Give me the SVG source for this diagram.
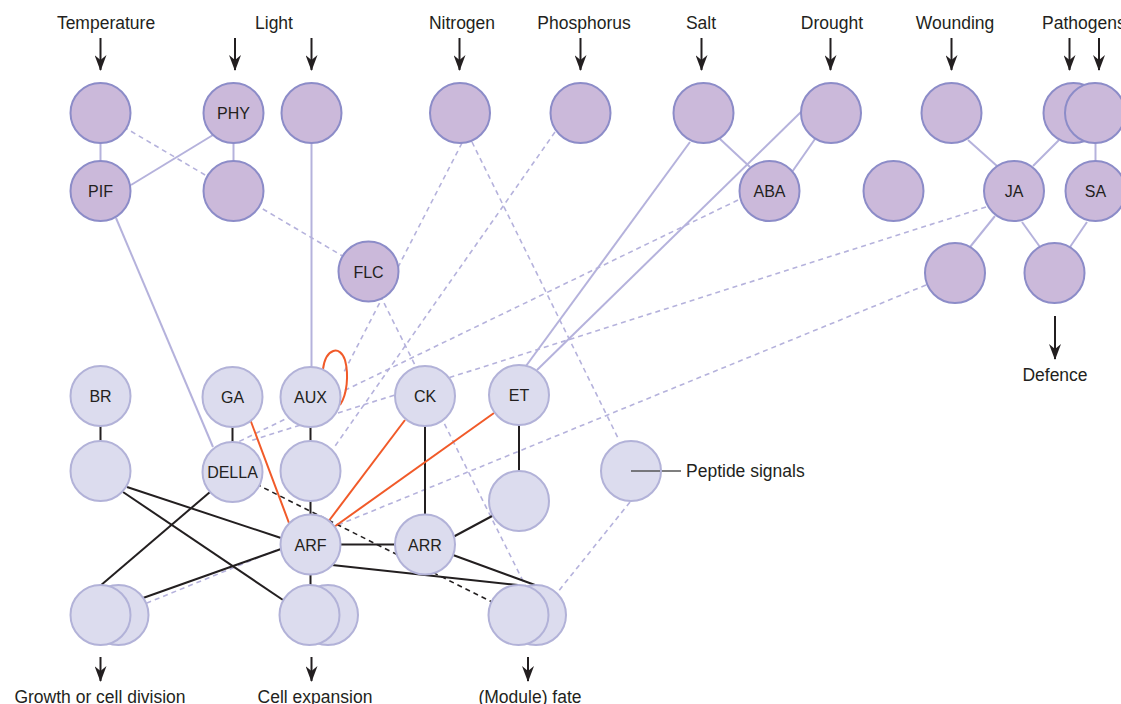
<svg xmlns="http://www.w3.org/2000/svg" width="1121" height="704" viewBox="0 0 1121 704">
<defs>
<marker id="ah" markerUnits="userSpaceOnUse" markerWidth="16" markerHeight="12" refX="15" refY="6" orient="auto" viewBox="0 0 16 12">
<path d="M0,0 L16,6 L0,12 L5,6 Z" fill="#231f20"/>
</marker>
<style>
.lbl{font-family:"Liberation Sans",Arial,sans-serif;font-size:17.5px;fill:#231f20;text-anchor:middle}
.nl{font-family:"Liberation Sans",Arial,sans-serif;font-size:16px;fill:#231f20;text-anchor:middle}
.top{fill:#cbb9da;stroke:#8c8cc8;stroke-width:2}
.low{fill:#dcdcee;stroke:#b2b2d8;stroke-width:2}
.ls{stroke:#b5b2dc;stroke-width:2;fill:none}
.ld{stroke:#b5b2dc;stroke-width:1.6;stroke-dasharray:5 4;fill:none}
.bk{stroke:#231f20;stroke-width:2;fill:none}
.bd{stroke:#231f20;stroke-width:1.6;stroke-dasharray:5 4;fill:none}
.or{stroke:#f15a29;stroke-width:2;fill:none}
.arr{stroke:#231f20;stroke-width:2;fill:none}
</style>
</defs>
<rect width="1121" height="704" fill="#ffffff"/>

<g id="labels">
<text class="lbl" x="106" y="29">Temperature</text>
<text class="lbl" x="274" y="29">Light</text>
<text class="lbl" x="462" y="29">Nitrogen</text>
<text class="lbl" x="584" y="29">Phosphorus</text>
<text class="lbl" x="701" y="29">Salt</text>
<text class="lbl" x="832" y="29">Drought</text>
<text class="lbl" x="955" y="29">Wounding</text>
<text class="lbl" x="1042" y="29" style="text-anchor:start">Pathogens</text>
<text class="lbl" x="1055" y="381">Defence</text>
<text class="lbl" x="100" y="703">Growth or cell division</text>
<text class="lbl" x="315" y="703">Cell expansion</text>
<text class="lbl" x="530" y="703">(Module) fate</text>
<text class="lbl" x="686" y="477" style="text-anchor:start">Peptide signals</text>
</g>

<g id="arrows">
<path class="arr" d="M100.5,38 V70" marker-end="url(#ah)"/>
<path class="arr" d="M235,38 V70" marker-end="url(#ah)"/>
<path class="arr" d="M311.5,38 V70" marker-end="url(#ah)"/>
<path class="arr" d="M459.5,38 V70" marker-end="url(#ah)"/>
<path class="arr" d="M580.5,38 V70" marker-end="url(#ah)"/>
<path class="arr" d="M701.5,38 V70" marker-end="url(#ah)"/>
<path class="arr" d="M830.5,38 V70" marker-end="url(#ah)"/>
<path class="arr" d="M951.5,38 V70" marker-end="url(#ah)"/>
<path class="arr" d="M1069.5,38 V70" marker-end="url(#ah)"/>
<path class="arr" d="M1099,38 V70" marker-end="url(#ah)"/>
<path class="arr" d="M1055,316 V359" marker-end="url(#ah)"/>
<path class="arr" d="M100.5,657 V681" marker-end="url(#ah)"/>
<path class="arr" d="M311.5,657 V681" marker-end="url(#ah)"/>
<path class="arr" d="M528,657 V681" marker-end="url(#ah)"/>
</g>

<g id="connectors">
<path class="ld" d="M100,113 L368,271"/>
<path class="ld" d="M462,143 L343,374"/>
<path class="ld" d="M472,142 L619,440"/>
<path class="ld" d="M555,132 L333,449"/>
<path class="ld" d="M738,200 L238,442"/>
<path class="ld" d="M986,207 L250,441"/>
<path class="ld" d="M926,285 L147,603"/>
<path class="ld" d="M368,271 L526,587"/>
<path class="ld" d="M630,502 L557,593"/>
<path class="ls" d="M100.5,143 V161"/>
<path class="ls" d="M213,135 L131,185"/>
<path class="ls" d="M233.5,143 V161"/>
<path class="ls" d="M311.5,143 V367"/>
<path class="ls" d="M116,218 L213,447"/>
<path class="ls" d="M720,139 L750,167"/>
<path class="ls" d="M690,142 L526,366"/>
<path class="ls" d="M803,110 L537,370"/>
<path class="ls" d="M815,139 L792,172"/>
<path class="ls" d="M968,140 L997,166"/>
<path class="ls" d="M1059,140 L1033,166"/>
<path class="ls" d="M1095.5,143 V161"/>
<path class="ls" d="M995,216 L970,247"/>
<path class="ls" d="M1022,222 L1040,247"/>
<path class="ls" d="M1087,222 L1070,247"/>
<path class="bk" d="M100.5,426 V441"/>
<path class="bk" d="M232.5,427 V442"/>
<path class="bk" d="M310.5,427 V441"/>
<path class="bk" d="M310.5,500 V515"/>
<path class="bk" d="M310.5,574 V586"/>
<path class="bk" d="M425,426 V515"/>
<path class="bk" d="M519,425 V471"/>
<path class="bk" d="M340,544.5 H395"/>
<path class="bk" d="M453,537 L494,515"/>
<path class="bk" d="M453,555 L535,585"/>
<path class="bk" d="M332,565 L518,585"/>
<path class="bk" d="M127,487 L281,538"/>
<path class="bk" d="M123,492 L283,600"/>
<path class="bk" d="M210,492 L100,586"/>
<path class="bk" d="M281,549 L143,598"/>
<path class="bd" d="M232,472 L518,615"/>
<path class="or" d="M250,419 L289,523"/>
<path class="or" d="M405,420 L328,522"/>
<path class="or" d="M494,413 L334,527"/>
<path class="or" d="M323,369 C326,348 340,345 345,360 C349,375 347,395 340,405"/>
<path d="M631,471 H681" stroke="#555" stroke-width="1.5"/>
</g>

<g id="n-temp"><circle class="top" cx="100.5" cy="113" r="30"/></g>
<g id="n-phy"><circle class="top" cx="233.5" cy="113" r="30"/><text class="nl" x="233.5" y="119">PHY</text></g>
<g id="n-light2"><circle class="top" cx="311.5" cy="113" r="30"/></g>
<g id="n-nitrogen"><circle class="top" cx="460" cy="113" r="30"/></g>
<g id="n-phosphorus"><circle class="top" cx="580.5" cy="113" r="30"/></g>
<g id="n-salt"><circle class="top" cx="703.5" cy="113" r="30"/></g>
<g id="n-drought"><circle class="top" cx="831" cy="113" r="30"/></g>
<g id="n-wounding"><circle class="top" cx="951.5" cy="113" r="30"/></g>
<g id="n-path1"><circle class="top" cx="1073.5" cy="113" r="30"/></g>
<g id="n-path2"><circle class="top" cx="1095" cy="113" r="30"/></g>
<g id="n-pif"><circle class="top" cx="100.5" cy="191" r="30"/><text class="nl" x="100.5" y="197">PIF</text></g>
<g id="n-phy2"><circle class="top" cx="233.5" cy="191" r="30"/></g>
<g id="n-aba"><circle class="top" cx="769.5" cy="191" r="30"/><text class="nl" x="769.5" y="197">ABA</text></g>
<g id="n-x"><circle class="top" cx="893.5" cy="191" r="30"/></g>
<g id="n-ja"><circle class="top" cx="1014" cy="191" r="30"/><text class="nl" x="1014" y="197">JA</text></g>
<g id="n-sa"><circle class="top" cx="1095.5" cy="191" r="30"/><text class="nl" x="1095.5" y="197">SA</text></g>
<g id="n-flc"><circle class="top" cx="368.5" cy="271.5" r="30"/><text class="nl" x="368.5" y="277.5">FLC</text></g>
<g id="n-def1"><circle class="top" cx="955" cy="273" r="30"/></g>
<g id="n-def2"><circle class="top" cx="1054.5" cy="273" r="30"/></g>

<g id="n-br"><circle class="low" cx="100.5" cy="396" r="30"/><text class="nl" x="100.5" y="402">BR</text></g>
<g id="n-ga"><circle class="low" cx="232.5" cy="397" r="30"/><text class="nl" x="232.5" y="403">GA</text></g>
<g id="n-aux"><circle class="low" cx="310.5" cy="397" r="30"/><text class="nl" x="310.5" y="403">AUX</text></g>
<g id="n-ck"><circle class="low" cx="425" cy="396" r="30"/><text class="nl" x="425" y="402">CK</text></g>
<g id="n-et"><circle class="low" cx="519" cy="395" r="30"/><text class="nl" x="519" y="401">ET</text></g>
<g id="n-br2"><circle class="low" cx="100.5" cy="471" r="30"/></g>
<g id="n-della"><circle class="low" cx="232.5" cy="472" r="30"/><text class="nl" x="232.5" y="478">DELLA</text></g>
<g id="n-aux2"><circle class="low" cx="310.5" cy="471" r="30"/></g>
<g id="n-et2"><circle class="low" cx="519" cy="501" r="30"/></g>
<g id="n-peptide"><circle class="low" cx="631" cy="471" r="30"/><path d="M631,471 H660" stroke="#555" stroke-width="1.5"/></g>
<g id="n-arf"><circle class="low" cx="310.5" cy="544.5" r="30"/><text class="nl" x="310.5" y="550.5">ARF</text></g>
<g id="n-arr"><circle class="low" cx="425" cy="544.5" r="30"/><text class="nl" x="425" y="550.5">ARR</text></g>
<g id="n-growth"><circle class="low" cx="118.5" cy="615" r="30"/><circle class="low" cx="100.5" cy="615" r="30"/></g>
<g id="n-expansion"><circle class="low" cx="328" cy="615" r="30"/><circle class="low" cx="309.5" cy="615" r="30"/></g>
<g id="n-fate"><circle class="low" cx="536" cy="615" r="30"/><circle class="low" cx="518.5" cy="615" r="30"/></g>
</svg>
